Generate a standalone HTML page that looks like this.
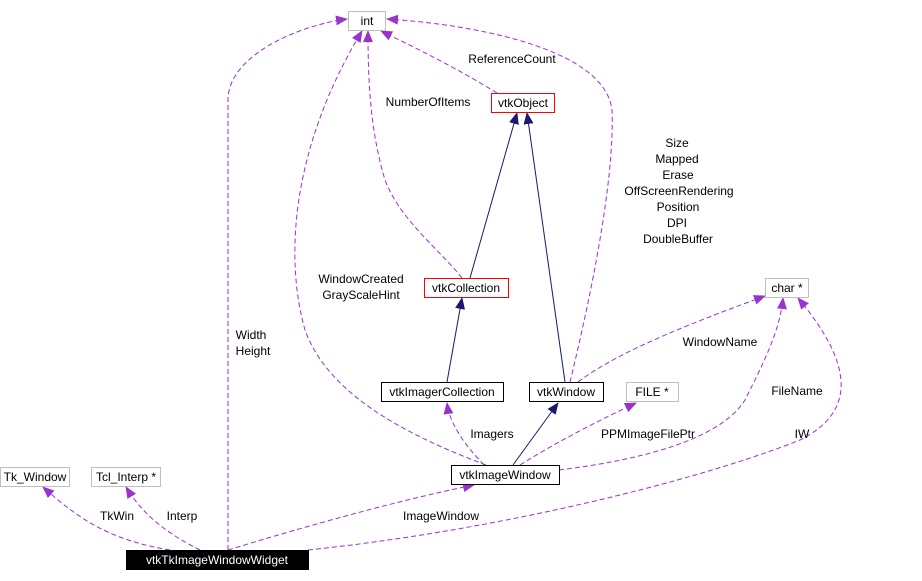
<!DOCTYPE html>
<html><head><meta charset="utf-8"><style>
html,body{margin:0;padding:0;background:#fff;}
svg{display:block;font-family:"Liberation Sans",Arial,sans-serif;font-size:12px;}
</style></head><body>
<svg width="922" height="581" viewBox="0 0 922 581" xmlns="http://www.w3.org/2000/svg">
<defs>
<marker id="p" markerWidth="12" markerHeight="10" refX="11" refY="5" orient="auto" markerUnits="userSpaceOnUse"><path d="M0,0 L12,5 L0,10 z" fill="#9a32cd"/></marker>
<marker id="n" markerWidth="12" markerHeight="10" refX="11" refY="5" orient="auto" markerUnits="userSpaceOnUse"><path d="M0,0 L12,5 L0,10 z" fill="#191970"/></marker>
</defs>
<g fill="none" stroke="#9a32cd" stroke-dasharray="5,3">
<path d="M228,550 L228,100 C228,55 300,25 347,19" marker-end="url(#p)"/>
<path d="M486,465 C420,440 330,400 305,330 C285,260 290,150 362,31" marker-end="url(#p)"/>
<path d="M462,278 C440,250 400,220 385,180 C370,130 368,80 368,31" marker-end="url(#p)"/>
<path d="M497,93 C460,70 420,50 381,31" marker-end="url(#p)"/>
<path d="M570,382 C590,300 615,180 612,110 C605,50 480,25 387,19" marker-end="url(#p)"/>
<path d="M578,382 C620,350 700,320 765,296" marker-end="url(#p)"/>
<path d="M559,470 C640,460 720,440 745,400 C765,360 780,330 783,298" marker-end="url(#p)"/>
<path d="M308,550 C500,530 700,480 800,440 C860,410 850,360 798,298" marker-end="url(#p)"/>
<path d="M520,465 C560,440 600,420 636,403" marker-end="url(#p)"/>
<path d="M484,465 C465,445 450,425 447,403" marker-end="url(#p)"/>
<path d="M228,550 C310,525 400,500 474,485" marker-end="url(#p)"/>
<path d="M170,550 C110,540 80,520 43,487" marker-end="url(#p)"/>
<path d="M200,550 C160,530 140,510 126,487" marker-end="url(#p)"/>
</g>
<g fill="none" stroke="#191970">
<path d="M470,278 L517,113" marker-end="url(#n)"/>
<path d="M565,382 L527,113" marker-end="url(#n)"/>
<path d="M447,382 L462,298" marker-end="url(#n)"/>
<path d="M513,465 L558,403" marker-end="url(#n)"/>
</g>
<g stroke-width="1">
<rect x="348.5" y="11.5" width="37" height="19" fill="#fff" stroke="#bfbfbf"/>
<rect x="491.5" y="93.5" width="63" height="19" fill="#fff" stroke="#ff0000"/>
<rect x="424.5" y="278.5" width="84" height="19" fill="#fff" stroke="#ff0000"/>
<rect x="765.5" y="278.5" width="43" height="19" fill="#fff" stroke="#bfbfbf"/>
<rect x="381.5" y="382.5" width="122" height="19" fill="#fff" stroke="#000"/>
<rect x="529.5" y="382.5" width="74" height="19" fill="#fff" stroke="#000"/>
<rect x="626.5" y="382.5" width="52" height="19" fill="#fff" stroke="#bfbfbf"/>
<rect x="451.5" y="465.5" width="108" height="19" fill="#fff" stroke="#000"/>
<rect x="0.5" y="467.5" width="69" height="19" fill="#fff" stroke="#bfbfbf"/>
<rect x="91.5" y="467.5" width="69" height="19" fill="#fff" stroke="#bfbfbf"/>
<rect x="126" y="550" width="183" height="20" fill="#000"/>
</g>
<g fill="#000" text-anchor="middle">
<text x="367" y="25">int</text>
<text x="523" y="107">vtkObject</text>
<text x="466" y="292">vtkCollection</text>
<text x="787" y="292">char *</text>
<text x="442" y="396">vtkImagerCollection</text>
<text x="566" y="396">vtkWindow</text>
<text x="652" y="396">FILE *</text>
<text x="505" y="479">vtkImageWindow</text>
<text x="35" y="481">Tk_Window</text>
<text x="126" y="481">Tcl_Interp *</text>
<text x="217" y="564" fill="#fff">vtkTkImageWindowWidget</text>
<text x="512" y="63">ReferenceCount</text>
<text x="428" y="106">NumberOfItems</text>
<text x="677" y="147">Size</text>
<text x="677" y="163">Mapped</text>
<text x="678" y="179">Erase</text>
<text x="679" y="195">OffScreenRendering</text>
<text x="678" y="211">Position</text>
<text x="677" y="227">DPI</text>
<text x="678" y="243">DoubleBuffer</text>
<text x="361" y="283">WindowCreated</text>
<text x="361" y="299">GrayScaleHint</text>
<text x="251" y="339">Width</text>
<text x="253" y="355">Height</text>
<text x="720" y="346">WindowName</text>
<text x="797" y="395">FileName</text>
<text x="802" y="438">IW</text>
<text x="648" y="438">PPMImageFilePtr</text>
<text x="492" y="438">Imagers</text>
<text x="441" y="520">ImageWindow</text>
<text x="117" y="520">TkWin</text>
<text x="182" y="520">Interp</text>
</g>
</svg>
</body></html>
